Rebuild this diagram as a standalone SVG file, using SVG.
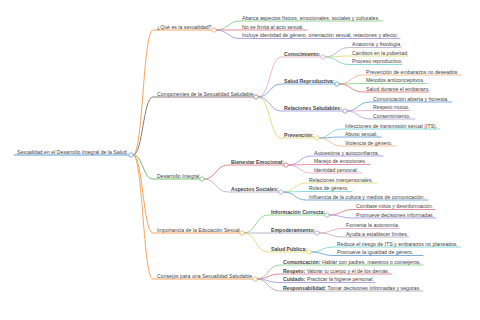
<svg xmlns="http://www.w3.org/2000/svg" width="480" height="320" viewBox="0 0 480 320">
<style>
.t{font-family:"Liberation Sans",Arial,sans-serif;font-size:5.2px;fill:#444}
.b{font-weight:bold}
.c{fill:none;stroke-width:0.8;stroke-linecap:round}
.k{fill:none;stroke-width:1}
.n{fill:#fff;stroke-width:0.8}
</style>
<rect width="480" height="320" fill="#fff"/>
<g id="connectors">
<path class="k" stroke="#5b9bd5" d="M14 155 H128.8"/>
<path class="k" stroke="#f5a55f" d="M133 155 C143 155 143 30 153 30 H211.8"/>
<path class="k" stroke="#8d7b76" d="M133 155 C143 155 143 97 153 97 H253.8"/>
<path class="k" stroke="#6dbf6d" d="M133 155 C143 155 143 179 153 179 H199.8"/>
<path class="k" stroke="#f5a55f" d="M133 155 C143 155 143 233 153 233 H239.8"/>
<path class="k" stroke="#f5a55f" d="M133 155 C143 155 143 279 153 279 H252.8"/>
<!-- B1 leaves -->
<path class="c" stroke="#7cc47c" d="M216.2 30 C228 30 228 21 240 21 H383"/>
<path class="c" stroke="#e06c75" d="M216.2 30 C228 30 228 30 240 30 H307"/>
<path class="c" stroke="#9a8ee0" d="M216.2 30 C228 30 228 38.5 240 38.5 H400"/>
<!-- B2 subs -->
<path class="c" stroke="#e8a3c8" d="M258.2 97 C270 97 270 57 281 57 H320.8"/>
<path class="c" stroke="#5b9bd5" d="M258.2 97 C270 97 270 84 281 84 H334.8"/>
<path class="c" stroke="#9090e0" d="M258.2 97 C270 97 270 111 281 111 H342.8"/>
<path class="c" stroke="#e0d070" d="M258.2 97 C270 97 270 138 281 138 H314.8"/>
<path class="c" stroke="#b8a8d0" d="M325.2 57 C337 57 337 47.5 349 47.5 H401"/>
<path class="c" stroke="#d8d870" d="M325.2 57 C337 57 337 56 349 56 H408"/>
<path class="c" stroke="#70d0d0" d="M325.2 57 C337 57 337 64.5 349 64.5 H402"/>
<path class="c" stroke="#f4b080" d="M339.2 84 C351 84 351 75 363 75 H461"/>
<path class="c" stroke="#80c880" d="M339.2 84 C351 84 351 83.5 363 83.5 H427"/>
<path class="c" stroke="#e07070" d="M339.2 84 C351 84 351 92 363 92 H429"/>
<path class="c" stroke="#5b9bd5" d="M347.2 111 C358 111 358 102 370 102 H452"/>
<path class="c" stroke="#e8a0c8" d="M347.2 111 C358 111 358 110.5 370 110.5 H410"/>
<path class="c" stroke="#b0a0c8" d="M347.2 111 C358 111 358 119 370 119 H415"/>
<path class="c" stroke="#70d0d0" d="M319.2 138 C330 138 330 129 342 129 H440"/>
<path class="c" stroke="#5b9bd5" d="M319.2 138 C330 138 330 137 342 137 H381"/>
<path class="c" stroke="#f4b080" d="M319.2 138 C330 138 330 146 342 146 H396"/>
<!-- B3 -->
<path class="c" stroke="#e06c75" d="M204.2 179 C216 179 216 165 228 165 H283.8"/>
<path class="c" stroke="#b0a8c8" d="M204.2 179 C216 179 216 192 228 192 H278.8"/>
<path class="c" stroke="#9a8ee0" d="M288.2 165 C300 165 300 156 311 156 H383"/>
<path class="c" stroke="#e07090" d="M288.2 165 C300 165 300 164.5 311 164.5 H370"/>
<path class="c" stroke="#e8a0c8" d="M288.2 165 C300 165 300 173 311 173 H362"/>
<path class="c" stroke="#d8d870" d="M283.2 192 C295 192 295 183 306 183 H377"/>
<path class="c" stroke="#70d0d0" d="M283.2 192 C295 192 295 191.5 306 191.5 H352"/>
<path class="c" stroke="#5b9bd5" d="M283.2 192 C295 192 295 200 306 200 H428"/>
<!-- B4 -->
<path class="c" stroke="#80c880" d="M244.2 233 C256 233 256 215 268 215 H324.8"/>
<path class="c" stroke="#b0a0b8" d="M244.2 233 C256 233 256 233 268 233 H314.8"/>
<path class="c" stroke="#d8d860" d="M244.2 233 C256 233 256 252 268 252 H306.8"/>
<path class="c" stroke="#e07080" d="M329.2 215 C341 215 341 209.5 353 209.5 H435"/>
<path class="c" stroke="#9a8ee0" d="M329.2 215 C341 215 341 218 353 218 H436"/>
<path class="c" stroke="#e8a0c8" d="M319.2 233 C331 233 331 228.5 343 228.5 H399"/>
<path class="c" stroke="#b0a8b8" d="M319.2 233 C331 233 331 237 343 237 H409"/>
<path class="c" stroke="#70d0d0" d="M311.2 252 C322 252 322 247 334 247 H461"/>
<path class="c" stroke="#5b9bd5" d="M311.2 252 C322 252 322 255.5 334 255.5 H423"/>
<!-- B5 -->
<path class="c" stroke="#80c880" d="M257.2 279 C268 279 268 265 280 265 H423"/>
<path class="c" stroke="#e07080" d="M257.2 279 C268 279 268 274 280 274 H392"/>
<path class="c" stroke="#9a8ee0" d="M257.2 279 C268 279 268 282.5 280 282.5 H375"/>
<path class="c" stroke="#a8a0a8" d="M257.2 279 C268 279 268 291 280 291 H423"/>
</g>
<g id="root"><text class="t" x="17" y="153.6">Sexualidad en el Desarrollo Integral de la Salud</text><circle class="n" stroke="#5b9bd5" cx="131" cy="155" r="2.2"/></g>
<g id="n1"><text class="t" x="157" y="28.6">¿Qué es la sexualidad?</text><circle class="n" stroke="#f5a55f" cx="214" cy="30" r="2.2"/></g>
<g id="n1a"><text class="t" x="242" y="19.6">Abarca aspectos físicos, emocionales, sociales y culturales.</text></g>
<g id="n1b"><text class="t" x="242" y="28.6">No se limita al acto sexual.</text></g>
<g id="n1c"><text class="t" x="242" y="37.1">Incluye identidad de género, orientación sexual, relaciones y afecto.</text></g>
<g id="n2"><text class="t" x="157" y="95.6">Componentes de la Sexualidad Saludable</text><circle class="n" stroke="#8d7b76" cx="256" cy="97" r="2.2"/></g>
<g id="n2a"><text class="t b" x="284" y="55.6">Conocimiento:</text><circle class="n" stroke="#e8a3c8" cx="323" cy="57" r="2.2"/></g>
<g id="n2a1"><text class="t" x="352" y="46.1">Anatomía y fisiología.</text></g>
<g id="n2a2"><text class="t" x="352" y="54.6">Cambios en la pubertad.</text></g>
<g id="n2a3"><text class="t" x="352" y="63.1">Proceso reproductivo.</text></g>
<g id="n2b"><text class="t b" x="284" y="82.6">Salud Reproductiva:</text><circle class="n" stroke="#5b9bd5" cx="337" cy="84" r="2.2"/></g>
<g id="n2b1"><text class="t" x="366" y="73.6">Prevención de embarazos no deseados.</text></g>
<g id="n2b2"><text class="t" x="366" y="82.1">Métodos anticonceptivos.</text></g>
<g id="n2b3"><text class="t" x="366" y="90.6">Salud durante el embarazo.</text></g>
<g id="n2c"><text class="t b" x="284" y="109.6">Relaciones Saludables:</text><circle class="n" stroke="#9090e0" cx="345" cy="111" r="2.2"/></g>
<g id="n2c1"><text class="t" x="373" y="100.6">Comunicación abierta y honesta.</text></g>
<g id="n2c2"><text class="t" x="373" y="109.1">Respeto mutuo.</text></g>
<g id="n2c3"><text class="t" x="373" y="117.6">Consentimiento.</text></g>
<g id="n2d"><text class="t b" x="284" y="136.6">Prevención:</text><circle class="n" stroke="#e0d070" cx="317" cy="138" r="2.2"/></g>
<g id="n2d1"><text class="t" x="345" y="127.6">Infecciones de transmisión sexual (ITS).</text></g>
<g id="n2d2"><text class="t" x="345" y="135.6">Abuso sexual.</text></g>
<g id="n2d3"><text class="t" x="345" y="144.6">Violencia de género.</text></g>
<g id="n3"><text class="t" x="157" y="177.6">Desarrollo Integral</text><circle class="n" stroke="#6dbf6d" cx="202" cy="179" r="2.2"/></g>
<g id="n3a"><text class="t b" x="231" y="163.6">Bienestar Emocional:</text><circle class="n" stroke="#e06c75" cx="286" cy="165" r="2.2"/></g>
<g id="n3a1"><text class="t" x="314" y="154.6">Autoestima y autoconfianza.</text></g>
<g id="n3a2"><text class="t" x="314" y="163.1">Manejo de emociones.</text></g>
<g id="n3a3"><text class="t" x="314" y="171.6">Identidad personal.</text></g>
<g id="n3b"><text class="t b" x="231" y="190.6">Aspectos Sociales:</text><circle class="n" stroke="#b0a8c8" cx="281" cy="192" r="2.2"/></g>
<g id="n3b1"><text class="t" x="309" y="181.6">Relaciones interpersonales.</text></g>
<g id="n3b2"><text class="t" x="309" y="190.1">Roles de género.</text></g>
<g id="n3b3"><text class="t" x="309" y="198.6">Influencia de la cultura y medios de comunicación.</text></g>
<g id="n4"><text class="t" x="157" y="231.6">Importancia de la Educación Sexual</text><circle class="n" stroke="#f5a55f" cx="242" cy="233" r="2.2"/></g>
<g id="n4a"><text class="t b" x="271" y="213.6">Información Correcta:</text><circle class="n" stroke="#80c880" cx="327" cy="215" r="2.2"/></g>
<g id="n4a1"><text class="t" x="356" y="208.1">Combate mitos y desinformación.</text></g>
<g id="n4a2"><text class="t" x="356" y="216.6">Promueve decisiones informadas.</text></g>
<g id="n4b"><text class="t b" x="271" y="231.6">Empoderamiento:</text><circle class="n" stroke="#b0a0b8" cx="317" cy="233" r="2.2"/></g>
<g id="n4b1"><text class="t" x="346" y="227.1">Fomenta la autonomía.</text></g>
<g id="n4b2"><text class="t" x="346" y="235.6">Ayuda a establecer límites.</text></g>
<g id="n4c"><text class="t b" x="271" y="250.6">Salud Pública:</text><circle class="n" stroke="#d8d860" cx="309" cy="252" r="2.2"/></g>
<g id="n4c1"><text class="t" x="337" y="245.6">Reduce el riesgo de ITS y embarazos no planeados.</text></g>
<g id="n4c2"><text class="t" x="337" y="254.1">Promueve la igualdad de género.</text></g>
<g id="n5"><text class="t" x="157" y="277.6">Consejos para una Sexualidad Saludable</text><circle class="n" stroke="#f5a55f" cx="255" cy="279" r="2.2"/></g>
<g id="n5a"><text class="t" x="283" y="263.6"><tspan class="b">Comunicación:</tspan> Hablar con padres, maestros o consejeros.</text></g>
<g id="n5b"><text class="t" x="283" y="272.6"><tspan class="b">Respeto:</tspan> Valorar tu cuerpo y el de los demás.</text></g>
<g id="n5c"><text class="t" x="283" y="281.1"><tspan class="b">Cuidado:</tspan> Practicar la higiene personal.</text></g>
<g id="n5d"><text class="t" x="283" y="289.6"><tspan class="b">Responsabilidad:</tspan> Tomar decisiones informadas y seguras.</text></g>
</svg>
